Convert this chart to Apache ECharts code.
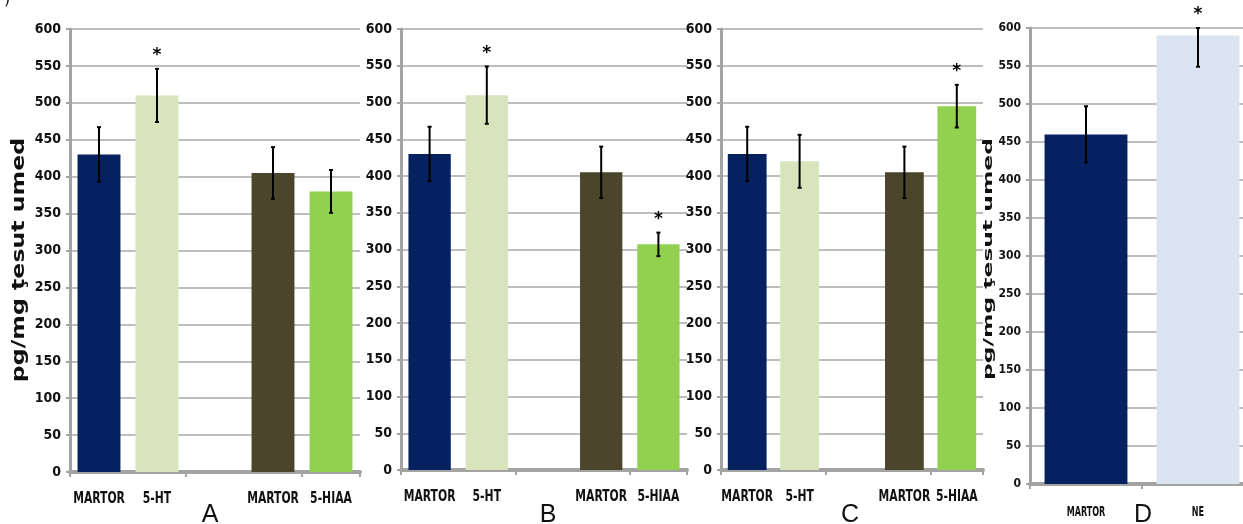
<!DOCTYPE html>
<html>
<head>
<meta charset="utf-8">
<script src="https://cdn.jsdelivr.net/npm/echarts@6/dist/echarts.min.js"></script>
<style>
  html, body { margin: 0; padding: 0; background: #ffffff; }
  #chart { width: 1243px; height: 524px; }
</style>
</head>
<body>
<div id="chart"></div>
<script>
// Monoamine levels (pg/mg ţesut umed), control vs treated
const categoriesABC = ['MARTOR', '5-HT', '', 'MARTOR', '5-HIAA'];
const categoriesD = ['MARTOR', 'NE'];
const yTicks = [0, 50, 100, 150, 200, 250, 300, 350, 400, 450, 500, 550, 600];

const valuesA = [430, 510, null, 405, 380];
const errorsA = [37, 36, null, 35, 29];
const starsA = [false, true, false, false, false];

const valuesB = [430, 510, null, 405, 307];
const errorsB = [37, 39, null, 35, 16];
const starsB = [false, true, false, false, true];

const valuesC = [430, 420, null, 405, 495];
const errorsC = [37, 36, null, 35, 29];
const starsC = [false, false, false, false, true];

const valuesD = [460, 590];
const errorsD = [37, 41];
const starsD = [false, true];

const panelLetters = ['A', 'B', 'C', 'D'];
const yTitle = 'pg/mg ţesut umed';

const colorsABC = ['#06215f', '#d8e4bc', '#ffffff', '#4a452b', '#92d050'];
const colorsD = ['#06215f', '#dbe5f1'];

const yMin = yTicks[0];
const yMax = yTicks[yTicks.length - 1];
const yStep = yTicks[1] - yTicks[0];

const condBold = "'DejaVu Sans Condensed', 'DejaVu Sans', sans-serif";

const panels = [
  { cats: categoriesABC, vals: valuesA, errs: errorsA, stars: starsA, colors: colorsABC,
    grid: { left: 70, top: 29, width: 290, height: 443 }, ySize: 14, xSize: 15, xScale: 0.8, xMargin: 20 },
  { cats: categoriesABC, vals: valuesB, errs: errorsB, stars: starsB, colors: colorsABC,
    grid: { left: 401, top: 29, width: 286, height: 441 }, ySize: 14, xSize: 15, xScale: 0.8, xMargin: 20 },
  { cats: categoriesABC, vals: valuesC, errs: errorsC, stars: starsC, colors: colorsABC,
    grid: { left: 721, top: 29, width: 262, height: 441 }, ySize: 14, xSize: 15, xScale: 0.8, xMargin: 20 },
  { cats: categoriesD, vals: valuesD, errs: errorsD, stars: starsD, colors: colorsD,
    grid: { left: 1030, top: 28, width: 224, height: 456 }, ySize: 12, xSize: 14, xScale: 0.64, xMargin: 21 }
];

const axisGrey = '#a3a3a3';

const grids = [], xAxes = [], yAxes = [], series = [];

panels.forEach(function (p, i) {
  grids.push(Object.assign({ outerBoundsMode: 'none', containLabel: false }, p.grid));

  xAxes.push({
    type: 'category', gridIndex: i, data: p.cats,
    axisLine: { show: true, lineStyle: { color: axisGrey, width: 4 } },
    axisTick: { show: true, length: 5, lineStyle: { color: axisGrey, width: 2 } },
    axisLabel: { show: false },
    splitLine: { show: false }
  });

  yAxes.push({
    type: 'value', gridIndex: i, min: yMin, max: yMax, interval: yStep,
    axisLine: { show: true, lineStyle: { color: axisGrey, width: 3 } },
    axisTick: { show: true, length: 4, lineStyle: { color: axisGrey, width: 2 } },
    axisLabel: { color: '#111', fontFamily: condBold, fontWeight: 'bold', fontSize: p.ySize, margin: 9 },
    splitLine: { show: true, lineStyle: { color: '#a8a8a8', width: 1.5 } }
  });

  series.push({
    type: 'bar', xAxisIndex: i, yAxisIndex: i, barWidth: '74%', silent: true,
    data: p.vals.map(function (v, k) {
      return v == null ? '-' : { value: v, itemStyle: { color: p.colors[k] } };
    })
  });

  // error bars and significance marks
  series.push({
    type: 'custom', xAxisIndex: i, yAxisIndex: i, silent: true, z: 5,
    data: p.vals.map(function (v, k) { return v == null ? null : [k, v, p.errs[k], p.stars[k] ? 1 : 0]; }).filter(function (d) { return d; }),
    renderItem: function (params, api) {
      const k = api.value(0), v = api.value(1), e = api.value(2), star = api.value(3);
      const top = api.coord([k, Math.min(v + e, yMax)]);
      const bot = api.coord([k, Math.max(v - e, yMin)]);
      const x = top[0];
      const children = [
        { type: 'line', shape: { x1: x, y1: top[1], x2: x, y2: bot[1] }, style: { stroke: '#000', lineWidth: 2 } },
        { type: 'line', shape: { x1: x - 2, y1: top[1], x2: x + 2, y2: top[1] }, style: { stroke: '#000', lineWidth: 2 } },
        { type: 'line', shape: { x1: x - 2, y1: bot[1], x2: x + 2, y2: bot[1] }, style: { stroke: '#000', lineWidth: 2 } }
      ];
      if (star) {
        children.push({ type: 'text', x: x, y: top[1] - 13,
          style: { text: '*', fill: '#000', font: 'bold 17px "DejaVu Sans", sans-serif', align: 'center', verticalAlign: 'middle' } });
      }
      return { type: 'group', children: children };
    }
  });

  // category labels, narrowed to fit under each bar
  series.push({
    type: 'custom', xAxisIndex: i, yAxisIndex: i, silent: true, clip: false,
    data: p.cats.map(function (c, k) { return [k, yMin]; }),
    renderItem: function (params, api) {
      const k = api.value(0);
      const text = p.cats[k];
      if (!text) return null;
      const pt = api.coord([k, yMin]);
      return { type: 'text', x: pt[0], y: pt[1] + p.xMargin, scaleX: p.xScale,
        style: { text: text, fill: '#111', font: 'bold ' + p.xSize + 'px ' + condBold, align: 'center', verticalAlign: 'top' } };
    }
  });
});

const letterX = [210, 548, 850, 1143];
const graphics = [
  { type: 'text', x: 4, y: -8, style: { text: ')', fill: '#111', font: '16px "DejaVu Sans", sans-serif' } },
  { type: 'text', x: 20, y: 260, rotation: Math.PI / 2, scaleX: 1.39,
    style: { text: yTitle, fill: '#111', font: 'bold 17px "DejaVu Sans", sans-serif', align: 'center', verticalAlign: 'middle' } },
  { type: 'text', x: 989, y: 259, rotation: Math.PI / 2, scaleX: 1.95,
    style: { text: yTitle, fill: '#111', font: 'bold 12px "DejaVu Sans", sans-serif', align: 'center', verticalAlign: 'middle' } }
];
panelLetters.forEach(function (t, i) {
  graphics.push({ type: 'text', x: letterX[i], y: 503,
    style: { text: t, fill: '#111', font: '25px "Liberation Sans", Arial, sans-serif', align: 'center', verticalAlign: 'top' } });
});

const chart = echarts.init(document.getElementById('chart'), null, { renderer: 'canvas' });
chart.setOption({
  backgroundColor: '#ffffff',
  animation: false,
  grid: grids,
  xAxis: xAxes,
  yAxis: yAxes,
  series: series,
  graphic: graphics
});
</script>
</body>
</html>
